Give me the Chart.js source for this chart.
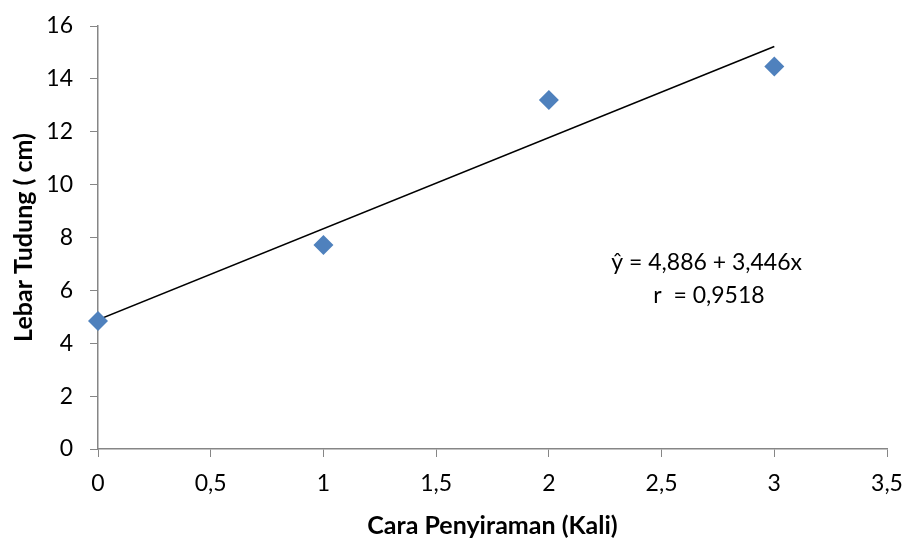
<!DOCTYPE html>
<html>
<head>
<meta charset="utf-8">
<script src="https://cdn.jsdelivr.net/npm/chart.js@4.4.0/dist/chart.umd.min.js"></script>
<style>
html,body{margin:0;padding:0;background:#fff;}
#wrap{width:907px;height:538px;position:relative;}
</style>
</head>
<body>
<div id="wrap"><canvas id="c" width="907" height="538"></canvas></div>
<script>
// Data
const xValues = [0, 1, 2, 3];
const yValues = [4.84, 7.72, 13.2, 14.47];
const trendX = [0, 3];
const trendY = [4.886, 15.224];
const xTicks = [0, 0.5, 1, 1.5, 2, 2.5, 3, 3.5];
const yTicks = [0, 2, 4, 6, 8, 10, 12, 14, 16];
const equationText = ['\u0177 = 4,886 + 3,446x', 'r  = 0,9518'];
const xTitle = 'Cara Penyiraman (Kali)';
const yTitle = 'Lebar Tudung ( cm)';

const FONT = 'Lato, "Open Sans", sans-serif';
const fmt = v => String(v).replace('.', ',');

const annotationPlugin = {
  id: 'eqText',
  afterDatasetsDraw(chart) {
    const {ctx, scales} = chart;
    ctx.save();
    ctx.fillStyle = '#000';
    ctx.font = '23px ' + FONT;
    ctx.textAlign = 'center';
    ctx.textBaseline = 'middle';
    ctx.fillText(equationText[0], scales.x.getPixelForValue(2.7), scales.y.getPixelForValue(7.07));
    ctx.fillText(equationText[1], scales.x.getPixelForValue(2.71), scales.y.getPixelForValue(5.82));
    ctx.restore();
  }
};

new Chart(document.getElementById('c'), {
  type: 'scatter',
  data: {
    datasets: [
      {
        type: 'line',
        data: trendX.map((x, i) => ({x, y: trendY[i]})),
        borderColor: '#000',
        borderWidth: 1.5,
        pointRadius: 0,
        fill: false,
        order: 2
      },
      {
        data: xValues.map((x, i) => ({x, y: yValues[i]})),
        pointStyle: 'rectRot',
        pointRadius: 10,
        pointBackgroundColor: '#4F81BD',
        pointBorderColor: '#4F81BD',
        pointBorderWidth: 0,
        clip: false,
        order: 1
      }
    ]
  },
  options: {
    responsive: false,
    animation: false,
    layout: {padding: {left: 0, right: 20, top: 26, bottom: 0}},
    plugins: {legend: {display: false}, tooltip: {enabled: false}},
    scales: {
      x: {
        type: 'linear',
        min: 0, max: 3.5,
        afterBuildTicks: s => { s.ticks = xTicks.map(v => ({value: v})); },
        afterFit: s => { s.height = 89; s.paddingLeft = 0; s.paddingRight = 0; },
        grid: {drawOnChartArea: false, drawTicks: true, tickLength: 8, color: '#868686'},
        border: {color: '#868686', width: 1.5},
        ticks: {color: '#000', font: {family: FONT, size: 23}, padding: 13, callback: v => fmt(v), maxRotation: 0},
        title: {display: true, text: xTitle, color: '#000', font: {family: FONT, size: 25, weight: 'bold'}, padding: {top: 4, bottom: -3}}
      },
      y: {
        type: 'linear',
        min: 0, max: 16,
        afterBuildTicks: s => { s.ticks = yTicks.map(v => ({value: v})); },
        afterFit: s => { s.width = 98; s.paddingTop = 0; s.paddingBottom = 0; },
        grid: {drawOnChartArea: false, drawTicks: true, tickLength: 8, color: '#868686'},
        border: {color: '#868686', width: 1.5},
        ticks: {color: '#000', font: {family: FONT, size: 23}, padding: 17, callback: v => fmt(v)},
        title: {display: true, text: yTitle, color: '#000', font: {family: FONT, size: 25, weight: 'bold'}, padding: {top: 9, bottom: 4}}
      }
    }
  },
  plugins: [annotationPlugin]
});
</script>
</body>
</html>
